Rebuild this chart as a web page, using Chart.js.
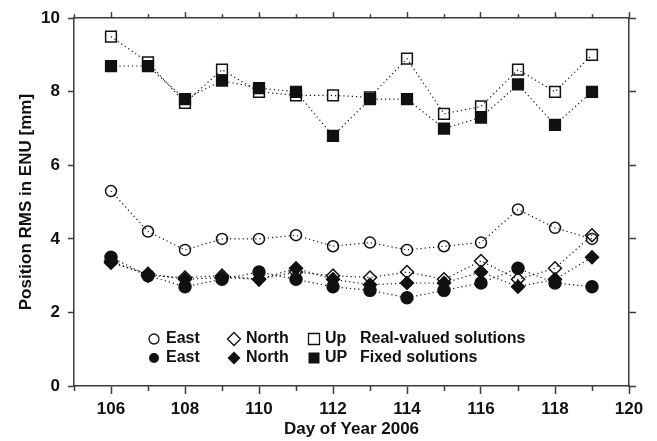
<!DOCTYPE html>
<html>
<head>
<meta charset="utf-8">
<script src="https://cdn.jsdelivr.net/npm/chart.js@4/dist/chart.umd.min.js"></script>
<style>
  html, body { margin: 0; padding: 0; background: #fff; }
  #wrap { width: 657px; height: 441px; }
</style>
</head>
<body>
<div id="wrap"><canvas id="rmsChart" width="657" height="441"></canvas></div>
<script>
// Day of year 2006
const days = [106, 107, 108, 109, 110, 111, 112, 113, 114, 115, 116, 117, 118, 119];

// Real-valued solutions (open markers)
const eastReal  = [5.3, 4.2, 3.7, 4.0, 4.0, 4.1, 3.8, 3.9, 3.7, 3.8, 3.9, 4.8, 4.3, 4.0];
const northReal = [3.4, 3.0, 2.95, 3.0, 2.9, 3.1, 3.0, 2.95, 3.1, 2.9, 3.4, 2.9, 3.2, 4.1];
const upReal    = [9.5, 8.8, 7.7, 8.6, 8.0, 7.9, 7.9, 7.85, 8.9, 7.4, 7.6, 8.6, 8.0, 9.0];

// Fixed solutions (filled markers)
const eastFixed  = [3.5, 3.0, 2.7, 2.9, 3.1, 2.9, 2.7, 2.6, 2.4, 2.6, 2.8, 3.2, 2.8, 2.7];
const northFixed = [3.35, 3.05, 2.9, 2.95, 2.9, 3.2, 2.9, 2.75, 2.8, 2.8, 3.1, 2.7, 2.9, 3.5];
const upFixed    = [8.7, 8.7, 7.8, 8.3, 8.1, 8.0, 6.8, 7.8, 7.8, 7.0, 7.3, 8.2, 7.1, 8.0];

const yTicks = [0, 2, 4, 6, 8, 10];
const xLabelTicks = [106, 108, 110, 112, 114, 116, 118, 120];

const FONT = "'Liberation Sans', Arial, Helvetica, sans-serif";
const AXIS = "#3a3a3a";

function pts(arr) {
  return days.map((d, i) => ({ x: d, y: arr[i] }));
}

function series(label, arr, style, radius, filled, order) {
  return {
    label: label,
    data: pts(arr),
    showLine: true,
    borderColor: "#111",
    borderWidth: 1.2,
    borderDash: [1.2, 3],
    tension: 0,
    pointStyle: style,
    pointRadius: radius,
    pointHoverRadius: radius,
    pointBorderWidth: 1.5,
    pointBorderColor: "#111",
    pointBackgroundColor: filled ? "#111" : "rgba(255,255,255,0)",
    order: order
  };
}

// minor ticks on the odd days + legend block
const extras = {
  id: "extras",
  afterDraw(chart) {
    const ctx = chart.ctx;
    const xs = chart.scales.x;
    const area = chart.chartArea;
    ctx.save();
    ctx.strokeStyle = AXIS;
    ctx.lineWidth = 1.5;
    for (let v = 105; v <= 120; v++) {
      if (v % 2 === 0) continue;
      const px = Math.round(xs.getPixelForValue(v)) + 0.5;
      ctx.beginPath();
      ctx.moveTo(px, area.bottom);
      ctx.lineTo(px, area.bottom + 5);
      ctx.moveTo(px, area.top);
      ctx.lineTo(px, area.top - 4);
      ctx.stroke();
    }

    // legend
    const lx = area.left;
    const rows = [
      { y: 339, filled: false, last: "Up", note: "Real-valued solutions" },
      { y: 358, filled: true, last: "UP", note: "Fixed solutions" }
    ];
    ctx.font = "bold 16px " + FONT;
    ctx.textBaseline = "middle";
    ctx.textAlign = "left";
    ctx.lineWidth = 1.3;
    rows.forEach(r => {
      ctx.strokeStyle = "#111";
      ctx.fillStyle = "#111";
      // circle
      ctx.beginPath();
      ctx.arc(lx + 80, r.y, 5, 0, Math.PI * 2);
      r.filled ? ctx.fill() : ctx.stroke();
      // diamond
      const dx = lx + 160;
      ctx.beginPath();
      ctx.moveTo(dx - 6.5, r.y);
      ctx.lineTo(dx, r.y - 6.5);
      ctx.lineTo(dx + 6.5, r.y);
      ctx.lineTo(dx, r.y + 6.5);
      ctx.closePath();
      r.filled ? ctx.fill() : ctx.stroke();
      // square
      const sx = lx + 240;
      ctx.beginPath();
      ctx.rect(sx - 5.5, r.y - 5.5, 11, 11);
      r.filled ? ctx.fill() : ctx.stroke();

      ctx.fillText("East", lx + 92, r.y);
      ctx.fillText("North", lx + 172, r.y);
      ctx.fillText(r.last, lx + 251, r.y);
      ctx.fillText(r.note, lx + 286, r.y);
    });
    ctx.restore();
  }
};

const tickFont = { family: FONT, size: 17, weight: "bold" };
const titleFont = { family: FONT, size: 17, weight: "bold" };

new Chart(document.getElementById("rmsChart"), {
  type: "scatter",
  data: {
    datasets: [
      series("East (fixed)", eastFixed, "circle", 6, true, 2),
      series("North (fixed)", northFixed, "rectRot", 6.5, true, 2),
      series("UP (fixed)", upFixed, "rect", 7.6, true, 2),
      series("East (real)", eastReal, "circle", 5.5, false, 1),
      series("North (real)", northReal, "rectRot", 6.5, false, 1),
      series("Up (real)", upReal, "rect", 7.6, false, 1)
    ]
  },
  options: {
    responsive: false,
    animation: false,
    devicePixelRatio: 1,
    layout: { padding: 0 },
    plugins: {
      legend: { display: false },
      tooltip: { enabled: false }
    },
    scales: {
      x: {
        type: "linear",
        position: "bottom",
        min: 105,
        max: 120,
        afterFit: s => { s.height = 55; },
        afterBuildTicks: s => { s.ticks = xLabelTicks.map(v => ({ value: v })); },
        ticks: { color: "#111", font: tickFont, padding: 5, autoSkip: false, maxRotation: 0 },
        grid: { drawOnChartArea: false, tickLength: 8, tickWidth: 1.5, tickColor: AXIS },
        border: { color: AXIS, width: 1.5 },
        title: { display: true, text: "Day of Year 2006", color: "#111", font: titleFont, padding: { top: 0, bottom: 1 } }
      },
      x2: {
        type: "linear",
        position: "top",
        min: 105,
        max: 120,
        afterFit: s => { s.height = 16; },
        afterBuildTicks: s => { s.ticks = xLabelTicks.map(v => ({ value: v })); },
        ticks: { display: false },
        grid: { drawOnChartArea: false, tickLength: 6, tickWidth: 1.5, tickColor: AXIS },
        border: { color: AXIS, width: 1.5 }
      },
      y: {
        type: "linear",
        position: "left",
        min: 0,
        max: 10,
        afterFit: s => { s.width = 74; },
        afterBuildTicks: s => { s.ticks = yTicks.map(v => ({ value: v })); },
        ticks: { color: "#111", font: tickFont, padding: 8 },
        grid: { drawOnChartArea: false, tickLength: 6, tickWidth: 1.5, tickColor: AXIS },
        border: { color: AXIS, width: 1.5 },
        title: { display: true, text: "Position RMS in ENU [mm]", color: "#111", font: titleFont, padding: { top: 16, bottom: 0 } }
      },
      y2: {
        type: "linear",
        position: "right",
        min: 0,
        max: 10,
        afterFit: s => { s.width = 28; },
        afterBuildTicks: s => { s.ticks = yTicks.map(v => ({ value: v })); },
        ticks: { display: false },
        grid: { drawOnChartArea: false, tickLength: 7, tickWidth: 1.5, tickColor: AXIS },
        border: { color: AXIS, width: 1.5 }
      }
    }
  },
  plugins: [extras]
});
</script>
</body>
</html>
